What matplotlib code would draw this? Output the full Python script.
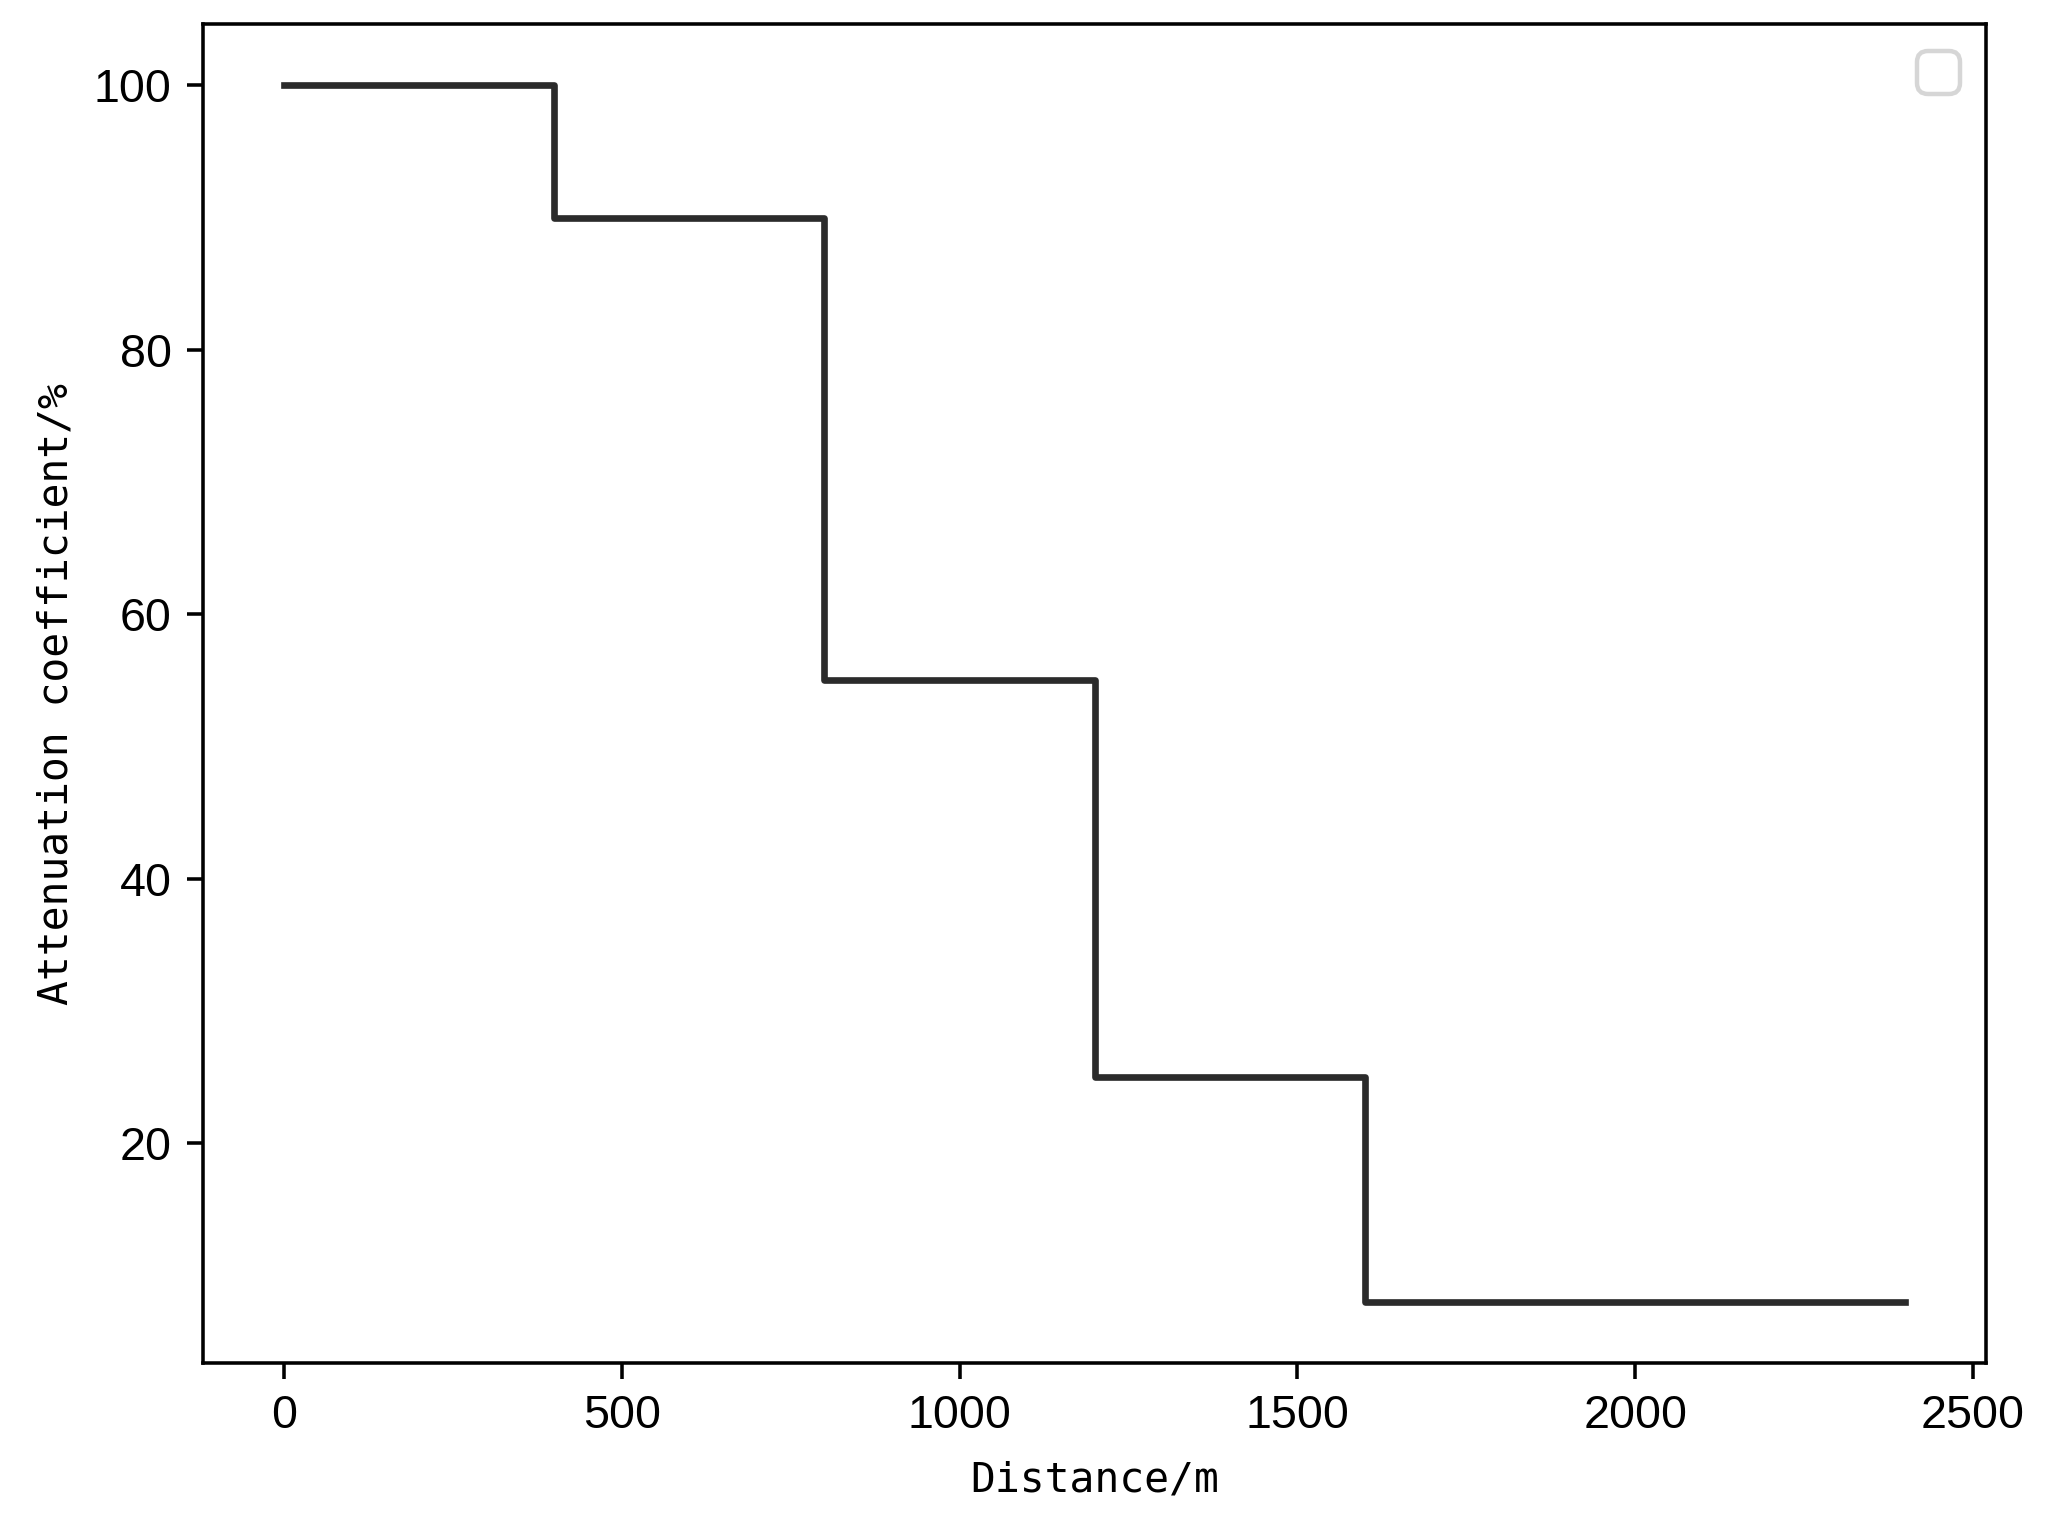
import matplotlib
matplotlib.use("Agg")
import matplotlib.pyplot as plt

distance = [0, 400, 800, 1200, 1600, 2400]
attenuation = [100, 90, 55, 25, 8, 8]
x_ticks = [0, 500, 1000, 1500, 2000, 2500]
y_ticks = [20, 40, 60, 80, 100]

plt.rcParams['font.family'] = ['Liberation Sans', 'DejaVu Sans']

fig = plt.figure(figsize=(2050/320, 1523/320), dpi=320)
ax = fig.add_axes([0.099, 0.1050, 0.870, 0.8790])
ax.plot(distance, attenuation, drawstyle='steps-post', color='#2b2b2b', linewidth=1.5)
ax.set_xticks(x_ticks)
ax.set_yticks(y_ticks)
ax.tick_params(labelsize=10.5)
ax.set_xlabel('Distance/m', fontsize=9.3, family='DejaVu Sans Mono', labelpad=5)
ax.set_ylabel('Attenuation coefficient/%', fontsize=9.3, family='DejaVu Sans Mono', labelpad=4)
ax.legend(handles=[], labels=[], loc='upper right', fontsize=12)
fig.savefig('out.png', dpi=320)
